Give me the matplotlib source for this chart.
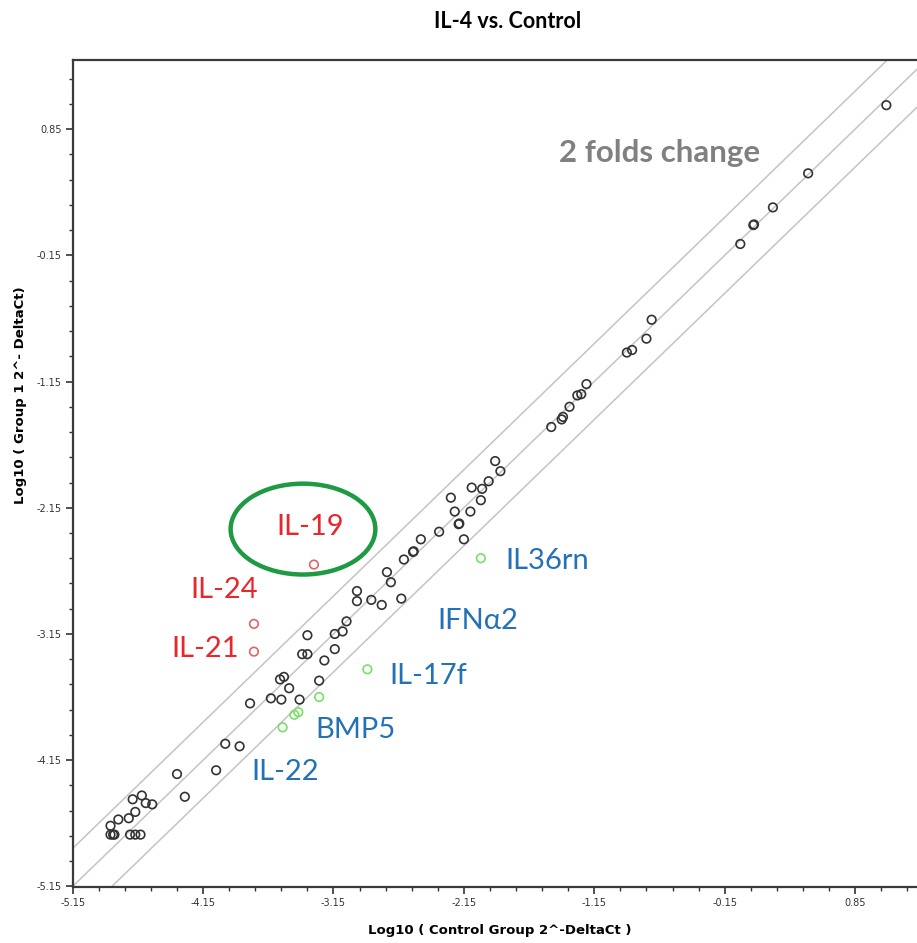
import matplotlib
matplotlib.use('Agg')
import matplotlib.pyplot as plt
import numpy as np
from matplotlib.patches import Ellipse
from matplotlib.ticker import FixedLocator, FormatStrFormatter

# log10 expression values
ctrl = [1.09, 0.49, 0.22, 0.07, 0.075, -0.03,
        -0.71, -0.75, -0.86, -0.90, -1.21, -1.25, -1.28, -1.34, -1.39, -1.40, -1.48,
        -1.91, -1.87, -1.96, -2.01, -2.09, -2.02, -2.25, -2.22, -2.10, -2.19, -2.185,
        -2.34, -2.15, -2.48, -2.54, -2.535, -2.61, -2.74, -2.71, -2.97, -2.97, -2.86,
        -2.78, -2.63, -3.05, -3.08, -3.14, -3.35, -3.14, -3.39, -3.35, -3.22, -3.56,
        -3.53, -3.49, -3.26, -3.79, -3.63, -3.55, -3.41, -3.98, -3.87, -4.35, -4.05,
        -4.29, -4.62, -4.69, -4.59, -4.54, -4.67, -4.72, -4.80, -4.86, -4.86, -4.84,
        -4.83, -4.71, -4.67, -4.63]
group1 = [1.04, 0.50, 0.23, 0.09, 0.095, -0.06,
          -0.66, -0.81, -0.90, -0.92, -1.17, -1.25, -1.26, -1.35, -1.43, -1.45, -1.51,
          -1.78, -1.86, -1.94, -2.00, -1.99, -2.09, -2.07, -2.18, -2.18, -2.28, -2.275,
          -2.34, -2.40, -2.40, -2.50, -2.495, -2.56, -2.66, -2.74, -2.81, -2.89, -2.88,
          -2.92, -2.87, -3.05, -3.13, -3.15, -3.16, -3.27, -3.31, -3.31, -3.36, -3.51,
          -3.49, -3.58, -3.52, -3.70, -3.66, -3.67, -3.67, -4.02, -4.04, -4.26, -4.23,
          -4.44, -4.43, -4.46, -4.49, -4.50, -4.56, -4.61, -4.62, -4.67, -4.74, -4.74,
          -4.74, -4.74, -4.74, -4.74]

up_genes = ["IL-19", "IL-24", "IL-21"]
up_ctrl = [-3.30, -3.76, -3.76]
up_group1 = [-2.60, -3.07, -3.29]

down_genes = ["IL36rn", "IL-17f", "IFNα2", "BMP5", "IL-22"]
down_ctrl = [-2.02, -2.89, -3.26, -3.42, -3.54]
down_group1 = [-2.55, -3.43, -3.65, -3.77, -3.89]
down_ctrl_extra = [-3.45]
down_group1_extra = [-3.79]

FOLD = np.log10(2)
ticks = [-5.15, -4.15, -3.15, -2.15, -1.15, -0.15, 0.85]

# label placement (data coords)
up_label_pos = {"IL-19": (-3.33, -2.30), "IL-24": (-3.99, -2.80), "IL-21": (-4.135, -3.27)}
down_label_pos = {"IL36rn": (-1.51, -2.57), "IFNα2": (-2.04, -3.05), "IL-17f": (-2.42, -3.48),
                  "BMP5": (-2.98, -3.91), "IL-22": (-3.52, -4.24)}

W, H = 917, 943
fig = plt.figure(figsize=(W / 100, H / 100), dpi=100)
left, right, top, bottom = 72.7, 917, 60, 887
ax = fig.add_axes([left / W, (H - bottom) / H, (right - left) / W, (bottom - top) / H])

ax.set_xlim(-5.15, 1.325)
ax.set_ylim(-5.155, 1.398)

for off in (FOLD, 0.0, -FOLD):
    ax.axline((0, off), slope=1, color='#c4c4c4', lw=1.1, zorder=1)

ax.scatter(ctrl, group1, s=38, facecolors='none', edgecolors='#333333', linewidths=1.2, zorder=3)
ax.scatter(up_ctrl, up_group1, s=38, facecolors='none', edgecolors='#e06666', linewidths=1.2, zorder=3)
ax.scatter(down_ctrl + down_ctrl_extra, down_group1 + down_group1_extra, s=38,
           facecolors='none', edgecolors='#77e066', linewidths=1.2, zorder=3)

for g in up_genes:
    x, y = up_label_pos[g]
    ax.text(x, y, g, color='#e8262b', fontsize=21, family='Lato', ha='center', va='center')
for g in down_genes:
    x, y = down_label_pos[g]
    ax.text(x, y, g, color='#2372b8', fontsize=21, family='Lato', ha='center', va='center')

ax.add_patch(Ellipse((-3.384, -2.319), 1.11, 0.72, fill=False, edgecolor='#1e9a45', lw=3.2, zorder=4))

ax.text(-0.646, 0.661, "2 folds change", color='#808080', fontsize=22.5, family='Lato',
        fontweight='bold', ha='center', va='center')

ax.xaxis.set_major_locator(FixedLocator(ticks))
ax.yaxis.set_major_locator(FixedLocator(ticks))
minor = np.round(np.arange(-5.15, 1.4, 0.2), 2)
ax.xaxis.set_minor_locator(FixedLocator(minor))
ax.yaxis.set_minor_locator(FixedLocator(minor))
ax.xaxis.set_major_formatter(FormatStrFormatter('%.2f'))
ax.yaxis.set_major_formatter(FormatStrFormatter('%.2f'))
ax.tick_params(which='major', length=5, width=1.2, color='#333333', labelsize=7, labelcolor='#333333', pad=3)
ax.tick_params(which='minor', length=3, width=1.0, color='#333333')

ax.spines['right'].set_visible(False)
for s in ('left', 'bottom', 'top'):
    ax.spines[s].set_linewidth(1.6)
    ax.spines[s].set_color('#3a3a3a')

ax.text(0.506, -0.052, "Log10 ( Control Group 2^-DeltaCt )", transform=ax.transAxes,
        ha='center', va='center', fontsize=9.5, fontweight='bold', family='DejaVu Sans')
ax.text(-0.062, 0.595, "Log10 ( Group 1 2^- DeltaCt)", transform=ax.transAxes, rotation=90,
        ha='center', va='center', fontsize=9.5, fontweight='bold', family='DejaVu Sans')

fig.text(508 / W, 1 - 22 / H, "IL-4 vs. Control", ha='center', va='center', fontsize=15.5,
         fontweight='bold', family='Lato')

fig.savefig('out.png', dpi=100)
